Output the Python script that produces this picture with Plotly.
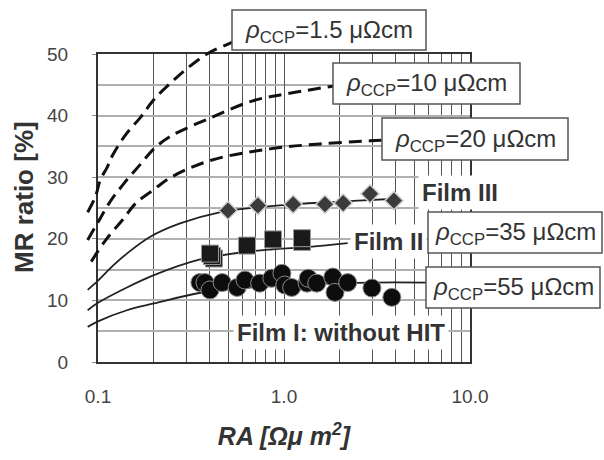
import plotly.graph_objects as go

# ---------------- data ----------------
# theoretical curves: RA [Ohm um^2] -> MR [%]
rho15_ra = [0.088, 0.097, 0.103, 0.112, 0.12, 0.14, 0.17, 0.2, 0.244, 0.3, 0.385, 0.49, 0.56]
rho15_mr = [24.3, 26.9, 29.6, 31.6, 33.6, 36.8, 39.8, 42.6, 45.2, 47.6, 50.0, 51.5, 52.2]

rho10_ra = [0.088, 0.1, 0.116, 0.138, 0.168, 0.2, 0.244, 0.4, 0.68, 1.11, 1.95]
rho10_mr = [19.8, 22.7, 26.0, 29.0, 32.0, 34.6, 36.6, 39.6, 42.4, 43.7, 44.9]

rho20_ra = [0.092, 0.11, 0.135, 0.16, 0.2, 0.244, 0.4, 0.84, 1.56, 2.9, 3.5]
rho20_mr = [16.3, 19.8, 23.0, 25.8, 28.0, 29.9, 32.7, 34.6, 35.4, 35.9, 36.0]

film3_curve_ra = [0.088, 0.1, 0.12, 0.143, 0.19, 0.276, 0.45, 0.72, 1.12, 1.66, 2.5, 4.0]
film3_curve_mr = [11.7, 13.2, 15.6, 17.6, 20.3, 22.5, 24.3, 25.1, 25.6, 25.9, 26.2, 26.5]

film2_curve_ra = [0.088, 0.1, 0.143, 0.2, 0.35, 0.63, 0.87, 1.25, 2.2]
film2_curve_mr = [8.4, 9.6, 12.1, 14.1, 16.6, 17.9, 18.3, 18.6, 19.3]

film1_curve_ra = [0.088, 0.1, 0.143, 0.2, 0.35, 0.6, 1.0, 2.0, 3.0, 6.0]
film1_curve_mr = [5.7, 6.6, 8.4, 9.5, 11.2, 12.0, 12.4, 12.8, 12.9, 12.9]

# measured points
film3_ra = [0.5, 0.724, 1.12, 1.66, 2.08, 2.9, 3.9]
film3_mr = [24.6, 25.4, 25.6, 25.6, 25.8, 27.3, 26.2]

film2_ra = [0.42, 0.41, 0.40, 0.633, 0.873, 1.25, 1.25]
film2_mr = [16.8, 17.2, 17.6, 18.9, 19.9, 19.5, 20.1]

film1_ra = [0.353, 0.376, 0.40, 0.465, 0.56, 0.617, 0.74, 0.86, 0.975, 1.01, 1.1,
            1.33, 1.35, 1.5, 1.83, 1.88, 2.2, 2.97, 3.8]
film1_mr = [12.9, 12.9, 11.7, 12.9, 12.1, 13.3, 12.8, 13.6, 14.4, 12.5, 12.1,
            12.8, 13.6, 12.8, 13.8, 11.3, 12.9, 12.0, 10.5]

x_tickvals = [0.1, 1, 10]
x_ticktext = ["0.1", "1.0", "10.0"]
x_minor = [0.2, 0.3, 0.4, 0.5, 0.6, 0.7, 0.8, 0.9, 2, 3, 4, 5, 6, 7, 8, 9]
y_tickvals = [0, 10, 20, 30, 40, 50]

box_labels = ["1.5", "10", "20", "35", "55"]

# ---------------- layout geometry ----------------
W, H = 604, 460
ML, MR_, MT, MB = 80, 134, 30, 98
PW, PH = W - ML - MR_, H - MT - MB          # plotting region in px
AX_L, AX_T = 98, 54                          # visible frame left / top (px)
DEC = (470 - AX_L) / 2.0                     # px per decade


def px(xp):
    return (xp - ML) / PW


def py(yp):
    return (H - MB - yp) / PH


FONT = "Liberation Sans, Arial, sans-serif"
TXT = "#333333"

fig = go.Figure()

# curves (drawn on the extended, hidden axes x2/y2 that share the visible scale)
for ra, mr in [(rho15_ra, rho15_mr), (rho10_ra, rho10_mr), (rho20_ra, rho20_mr)]:
    fig.add_trace(go.Scatter(x=ra, y=mr, mode="lines", xaxis="x2", yaxis="y2",
                             line=dict(color="#111111", width=3, dash="13px,7px", shape="spline"),
                             hoverinfo="skip", showlegend=False))
for ra, mr in [(film3_curve_ra, film3_curve_mr), (film2_curve_ra, film2_curve_mr),
               (film1_curve_ra, film1_curve_mr)]:
    fig.add_trace(go.Scatter(x=ra, y=mr, mode="lines", xaxis="x2", yaxis="y2",
                             line=dict(color="#222222", width=1.8, shape="spline"),
                             hoverinfo="skip", showlegend=False))

fig.add_trace(go.Scatter(x=film1_ra, y=film1_mr, mode="markers", xaxis="x2", yaxis="y2",
                         marker=dict(symbol="circle", size=18, color="#0d0d0d",
                                     line=dict(color="#8a8a8a", width=1)),
                         showlegend=False))
fig.add_trace(go.Scatter(x=film2_ra, y=film2_mr, mode="markers", xaxis="x2", yaxis="y2",
                         marker=dict(symbol="square", size=17, color="#1a1a1a",
                                     line=dict(color="#9a9a9a", width=1)),
                         showlegend=False))
fig.add_trace(go.Scatter(x=film3_ra, y=film3_mr, mode="markers", xaxis="x2", yaxis="y2",
                         marker=dict(symbol="diamond", size=14, color="#3b3b3b",
                                     line=dict(color="#cfcfcf", width=1.5)),
                         showlegend=False))

# a dummy trace to make the visible axes exist
fig.add_trace(go.Scatter(x=[1], y=[0], mode="markers", marker=dict(opacity=0),
                         hoverinfo="skip", showlegend=False))

# boxes (px rectangles)
boxes = [(232, 426, 10, 50), (333, 520, 63, 104), (382, 568, 118, 160),
         (428, 602, 212, 253), (426, 600, 267, 308)]
shapes = []
annotations = []
for (x0, x1, y0, y1), lab in zip(boxes, box_labels):
    shapes.append(dict(type="rect", xref="paper", yref="paper",
                       x0=px(x0), x1=px(x1), y0=py(y1), y1=py(y0),
                       fillcolor="white", line=dict(color="#555555", width=1.5), layer="above"))
    annotations.append(dict(
        xref="paper", yref="paper", x=px((x0 + x1) / 2), y=py((y0 + y1) / 2 + 1),
        xanchor="center", yanchor="middle", showarrow=False,
        text="<i>ρ</i><sub>CCP</sub>=" + lab + " μΩcm",
        font=dict(family=FONT, size=24, color=TXT)))

for txt, cx, cy in [("Film III", 460, 192), ("Film II", 388, 242),
                    ("Film I: without HIT", 341, 332)]:
    annotations.append(dict(xref="paper", yref="paper", x=px(cx), y=py(cy),
                            xanchor="center", yanchor="middle", showarrow=False,
                            text="<b>" + txt + "</b>", bgcolor="white", borderpad=3,
                            font=dict(family=FONT, size=24, color=TXT)))

# y-axis title
annotations.append(dict(xref="paper", yref="paper", x=px(24), y=py(197),
                        xanchor="center", yanchor="middle", showarrow=False, textangle=-90,
                        text="<b>MR ratio [%]</b>",
                        font=dict(family=FONT, size=26, color=TXT)))

hidden = dict(visible=False, showticklabels=False, showgrid=False, zeroline=False,
              showline=False, ticks="")

fig.update_layout(
    width=W, height=H, margin=dict(l=ML, r=MR_, t=MT, b=MB),
    paper_bgcolor="white", plot_bgcolor="rgba(0,0,0,0)",
    shapes=shapes, annotations=annotations,
    xaxis=dict(type="log", domain=[px(AX_L), 1], range=[-1, 1], anchor="y",
               tickvals=x_tickvals, ticktext=x_ticktext, ticks="",
               ticklabelstandoff=16,
               tickfont=dict(family=FONT, size=19, color="#444444"),
               showgrid=True, gridcolor="#555555", gridwidth=1,
               minor=dict(tickvals=x_minor, showgrid=True, gridcolor="#555555", gridwidth=1, ticks=""),
               showline=True, mirror=True, linecolor="#333333", linewidth=2,
               zeroline=False,
               title=dict(text="<b><i>RA [Ωμ m<sup>2</sup>]</i></b>", standoff=22,
                          font=dict(family=FONT, size=25, color=TXT))),
    yaxis=dict(domain=[0, py(AX_T)], range=[0, 50], anchor="x",
               tickvals=y_tickvals, ticks="outside", ticklen=4, tickcolor="#888888",
               ticklabelstandoff=20,
               tickfont=dict(family=FONT, size=19, color="#444444"),
               showgrid=True, gridcolor="#b0b0b0", gridwidth=1.5,
               minor=dict(dtick=5, showgrid=True, gridcolor="#b0b0b0", gridwidth=1.5, ticks=""),
               showline=True, mirror=True, linecolor="#333333", linewidth=2,
               zeroline=False),
    xaxis2=dict(type="log", domain=[0, 1], range=[-1 - (AX_L - ML) / DEC, 1], anchor="y2",
                **hidden),
    yaxis2=dict(domain=[0, 1], range=[0, 50 * PH / (H - MB - AX_T)], anchor="x2",
                **hidden),
)

fig.write_html("out.html")
